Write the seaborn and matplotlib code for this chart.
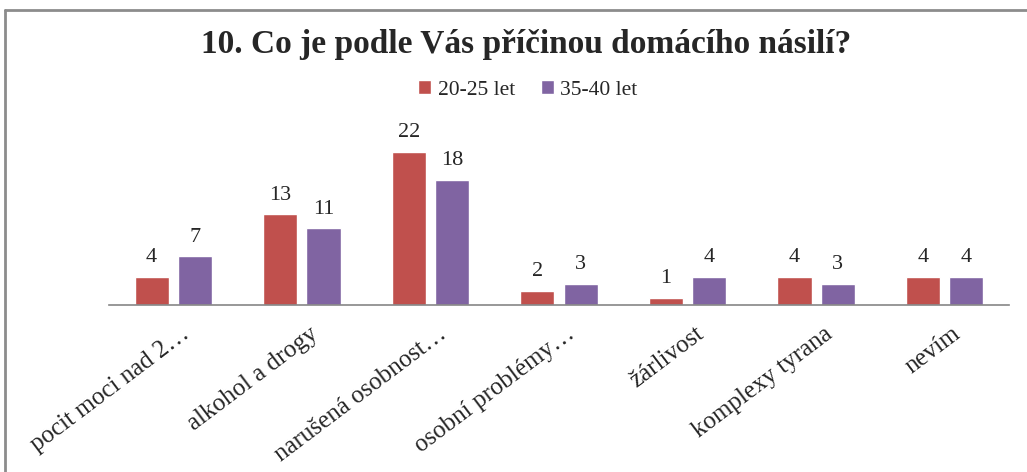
import matplotlib
matplotlib.use('Agg')
import matplotlib.pyplot as plt
import matplotlib.transforms as mtransforms
import seaborn as sns
import pandas as pd
from matplotlib.lines import Line2D

# data
kategorie = ['pocit moci nad 2…', 'alkohol a drogy', 'narušená osobnost…', 'osobní problémy…',
             'žárlivost', 'komplexy tyrana', 'nevím']
skupiny = ['20-25 let', '35-40 let']
hodnoty_20_25 = [4, 13, 22, 2, 1, 4, 4]
hodnoty_35_40 = [7, 11, 18, 3, 4, 3, 4]
nadpis = '10. Co je podle Vás příčinou domácího násilí?'

df = pd.DataFrame({
    'kategorie': kategorie * 2,
    'pocet': hodnoty_20_25 + hodnoty_35_40,
    'skupina': [skupiny[0]] * len(kategorie) + [skupiny[1]] * len(kategorie),
})

sns.set_style('white')
plt.rcParams['font.family'] = ['Liberation Serif', 'DejaVu Serif']

fig = plt.figure(figsize=(10.27, 4.72), dpi=100)
ax = fig.add_axes([109 / 1027, 1 - 305 / 472, 900 / 1027, 195 / 472])

sns.barplot(data=df, x='kategorie', y='pocet', hue='skupina', order=kategorie, hue_order=skupiny,
            palette=['#C0504D', '#8064A2'], saturation=1, width=0.672, gap=0.21, ax=ax)

ax.set_ylim(0, 28)
ax.set_yticks([])
ax.set_xlabel('')
ax.set_ylabel('')
for s in ['left', 'top', 'right']:
    ax.spines[s].set_visible(False)
ax.spines['bottom'].set_color('#868686')
ax.spines['bottom'].set_linewidth(1.2)

# popisky hodnot
for c in ax.containers:
    ax.bar_label(c, padding=7, fontsize=16)

ax.set_xticks(range(len(kategorie)))
ax.set_xticklabels(kategorie, rotation=37, ha='right', va='top', rotation_mode='anchor', fontsize=18)
ax.tick_params(axis='x', length=0, pad=13)
posun = mtransforms.ScaledTranslation(5 / 72, 0, fig.dpi_scale_trans)
for lab in ax.get_xticklabels():
    lab.set_transform(lab.get_transform() + posun)

# legenda nahore
ax.legend(loc='center', bbox_to_anchor=(528 / 1027, 1 - 90 / 472), bbox_transform=fig.transFigure,
          ncol=2, frameon=False, fontsize=15.5, handlelength=0.6, handleheight=0.6,
          handletextpad=0.3, columnspacing=1.2)

fig.text(0.512, 1 - 45 / 472, nadpis, ha='center', va='center', fontsize=24, fontweight='bold')

# ramecek grafu (jen horni a leva hrana)
fig.add_artist(Line2D([5 / 1027, 1], [1 - 10 / 472] * 2, transform=fig.transFigure, color='#8c8c8c', lw=2))
fig.add_artist(Line2D([5 / 1027] * 2, [0, 1 - 10 / 472], transform=fig.transFigure, color='#8c8c8c', lw=2))

fig.savefig('out.png', dpi=100)
